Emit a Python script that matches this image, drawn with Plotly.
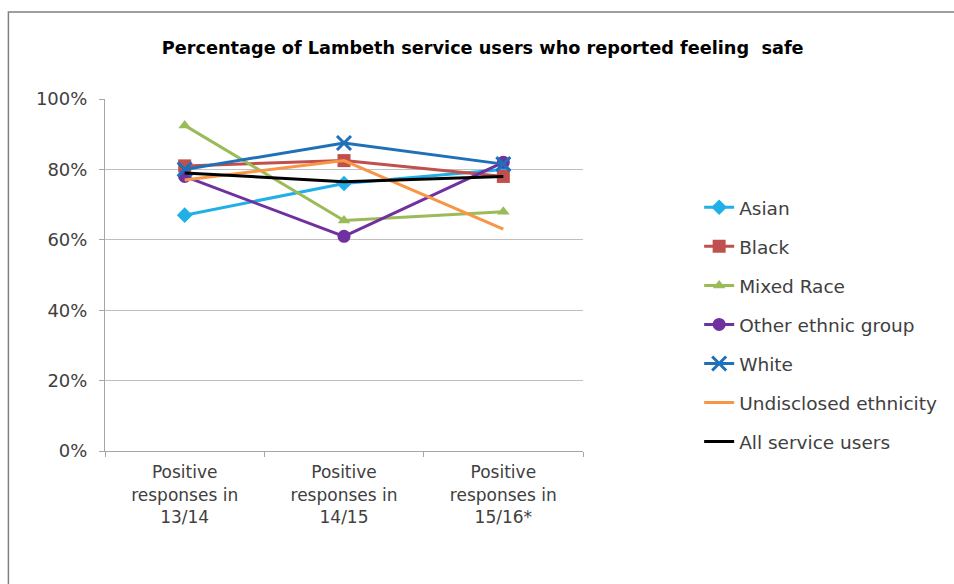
import plotly.graph_objects as go

categories = ["Positive<br>responses in<br>13/14", "Positive<br>responses in<br>14/15", "Positive<br>responses in<br>15/16*"]
series_names = ["Asian", "Black", "Mixed Race", "Other ethnic group", "White", "Undisclosed ethnicity", "All service users"]
asian = [0.67, 0.76, 0.80]
black = [0.81, 0.825, 0.78]
mixed = [0.925, 0.655, 0.68]
other = [0.78, 0.61, 0.82]
white = [0.80, 0.875, 0.815]
undisclosed = [0.77, 0.825, 0.63]
all_users = [0.79, 0.765, 0.78]

values = [asian, black, mixed, other, white, undisclosed, all_users]
colors = ["#1FB0E8", "#C0504D", "#9BBB59", "#7030A0", "#1F70B8", "#F79646", "#000000"]
symbols = ["diamond", "square", "triangle-up", "circle", "x-thin", None, None]
sizes = [12, 13, 11, 13, 14, 0, 0]

FONT = "DejaVu Sans, Arial, sans-serif"

fig = go.Figure()
for i, (name, vals) in enumerate(zip(series_names, values)):
    kw = dict(x=categories, y=vals, name=name, legendgroup=name,
              line=dict(color=colors[i], width=3))
    if symbols[i]:
        kw["mode"] = "lines+markers"
        m = dict(symbol=symbols[i], size=sizes[i], color=colors[i])
        if symbols[i] == "x-thin":
            m["line"] = dict(color=colors[i], width=3)
        kw["marker"] = m
    else:
        kw["mode"] = "lines"
    fig.add_trace(go.Scatter(**kw))

fig.update_layout(
    width=954, height=584,
    margin=dict(l=105, r=369, t=99, b=133),
    paper_bgcolor="white", plot_bgcolor="white",
    font=dict(family=FONT, size=17, color="#404040"),
    title=dict(text="<b>Percentage of Lambeth service users who reported feeling  safe</b>",
               x=0.506, xanchor="center", y=0.918, yanchor="middle",
               font=dict(family=FONT, size=17.7, color="#000000")),
    legend=dict(x=1.243, xanchor="left", y=0.745, yanchor="top",
                font=dict(family=FONT, size=18.5, color="#404040"), tracegroupgap=12,
                itemwidth=30, bgcolor="rgba(0,0,0,0)"),
    showlegend=True,
)
fig.update_xaxes(range=[-0.5, 2.5], showline=True, linecolor="#A6A6A6", linewidth=1,
                 ticks="outside", tickson="boundaries", ticklen=5, tickcolor="#A6A6A6",
                 ticklabelstandoff=6,
                 showgrid=False, tickfont=dict(family=FONT, size=17, color="#404040"))
fig.update_yaxes(range=[0, 1], dtick=0.2, tickformat=".0%", showline=True,
                 linecolor="#A6A6A6", linewidth=1, ticks="outside", ticklen=5,
                 tickcolor="#A6A6A6", gridcolor="#BFBFBF", gridwidth=1,
                 ticklabelstandoff=8,
                 zeroline=False, tickfont=dict(family=FONT, size=18, color="#404040"))

fig.add_shape(type="rect", xref="paper", yref="paper",
              x0=(8 - 105) / 480, x1=(960 - 105) / 480,
              y0=(451 - 600) / 352, y1=(451 - 12) / 352,
              line=dict(color="#808080", width=1.5), fillcolor="rgba(0,0,0,0)", layer="below")

fig.write_html("out.html")
